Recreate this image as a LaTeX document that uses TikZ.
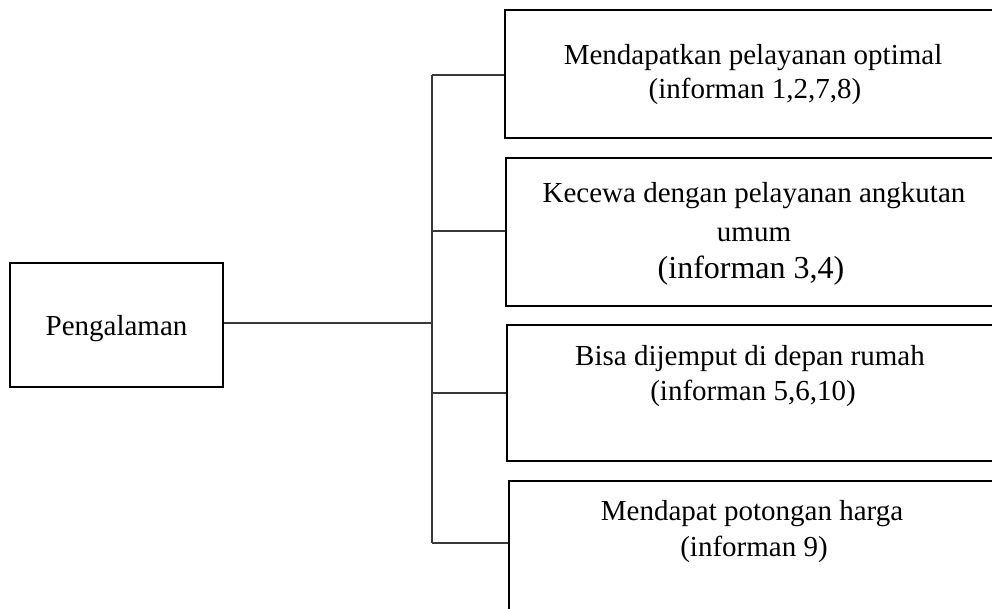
\documentclass[tikz,border=0pt]{standalone}
\usepackage{fontspec}
\setmainfont{Liberation Serif}
\begin{document}
\begin{tikzpicture}[x=1pt,y=-1pt,
  box/.style={draw=black,line width=2.4pt,rectangle,inner sep=0pt,fill=none},
  link/.style={draw=black!78,line width=1.4pt},
  txt/.style={anchor=base,inner sep=0pt,font=\fontsize{29}{34}\selectfont},
  txtbig/.style={anchor=base,inner sep=0pt,font=\fontsize{32}{38}\selectfont}]
\clip (0,0) rectangle (992,608);
\fill[white] (0,0) rectangle (992,608);

% left box
\node[box,minimum width=213pt,minimum height=124pt] (b0) at (116.5,325) {};
\node[txt] (t0) at (116.5,335) {Pengalaman};

% right boxes (their right edges run past the page)
\node[box,minimum width=495pt,minimum height=128pt] (b1) at (752.5,74) {};
\node[box,minimum width=494pt,minimum height=148pt] (b2) at (753,232) {};
\node[box,minimum width=493pt,minimum height=136pt] (b3) at (753.5,393) {};
\node[box,minimum width=491pt,minimum height=169pt] (b4) at (754.5,565.5) {};

% box texts
\node[txt] (t1a) at (753,64) {Mendapatkan pelayanan optimal};
\node[txt] (t1b) at (755,98) {(informan 1,2,7,8)};
\node[txt] (t2a) at (754,202) {Kecewa dengan pelayanan angkutan};
\node[txt] (t2b) at (754,241) {umum};
\node[txtbig] (t2c) at (751,278) {(informan 3,4)};
\node[txt] (t3a) at (750,365) {Bisa dijemput di depan rumah};
\node[txt] (t3b) at (753,400) {(informan 5,6,10)};
\node[txt] (t4a) at (752,520) {Mendapat potongan harga};
\node[txt] (t4b) at (754,556) {(informan 9)};

% connector tree
\coordinate (j) at (432,323);
\coordinate (s1) at (432,75);
\coordinate (s2) at (432,231);
\coordinate (s3) at (432,393);
\coordinate (s4) at (432,543);
\draw[link] (b0.east |- j) -- (j);
\draw[link] (s1) -- (s4);
\draw[link] (s1) -- (s1 -| b1.west);
\draw[link] (s2) -- (s2 -| b2.west);
\draw[link] (s3) -- (s3 -| b3.west);
\draw[link] (s4) -- (s4 -| b4.west);
\end{tikzpicture}
\end{document}
